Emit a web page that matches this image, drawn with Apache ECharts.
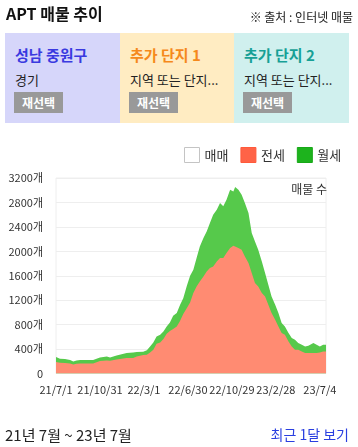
<!DOCTYPE html>
<html><head><meta charset="utf-8">
<script src="https://cdn.jsdelivr.net/npm/echarts@6/dist/echarts.min.js"></script>
<style>
html,body{margin:0;padding:0;background:#fff;}
body{width:358px;height:447px;position:relative;overflow:hidden;font-family:"Noto Sans CJK KR","Noto Sans",sans-serif;color:#222;}
#chart{position:absolute;left:0;top:0;width:358px;height:447px;}
.abs{position:absolute;white-space:nowrap;}
.title{left:6px;top:1px;font-size:16px;font-weight:bold;color:#111;}
.src{right:5px;top:8px;font-size:12px;color:#222;}
.card{position:absolute;top:33px;height:90px;width:115px;}
.card .h{position:absolute;left:10px;top:11px;font-size:15px;font-weight:bold;}
.card .s{position:absolute;left:10px;top:37px;font-size:13px;color:#222;}
.card .b{position:absolute;left:9px;top:59px;width:49px;height:21px;line-height:21px;background:#999;color:#fff;font-size:12px;font-weight:bold;text-align:center;}
.foot{left:5px;top:424px;font-size:15px;color:#222;}
.more{right:9px;top:424px;font-size:14px;color:#2a3fe0;}
</style></head>
<body>
<div id="chart"></div>
<div class="abs title">APT 매물 추이</div>
<div class="abs src">※ 출처 : 인터넷 매물</div>
<div class="card" style="left:5px;background:#d6d6fa;"><div class="h" style="color:#3a3ae0;">성남 중원구</div><div class="s">경기</div><div class="b">재선택</div></div>
<div class="card" style="left:120px;background:#ffecc2;"><div class="h" style="color:#f5891c;">추가 단지 1</div><div class="s">지역 또는 단지...</div><div class="b">재선택</div></div>
<div class="card" style="left:234px;width:115px;background:#d0f0ee;"><div class="h" style="color:#17a096;">추가 단지 2</div><div class="s">지역 또는 단지...</div><div class="b">재선택</div></div>
<div class="abs foot">21년 7월 ~ 23년 7월</div>
<div class="abs more">최근 1달 보기</div>
<script>
// day index since 21/7/1
const days = [0,11,25,39,48,57,67,85,103,108,122,141,150,168,182,196,214,224,242,252,261,270,279,289,298,307,316,325,335,344,353,363,372,381,390,399,409,418,427,436,446,455,464,473,483,492,497,506,515,524,534,543,552,561,571,580,589,598,608,617,626,635,645,654,663,672,682,691,700,714,723,732,741,749];
const jeonse = [187,175,170,164,148,159,164,164,164,192,203,213,208,230,241,252,252,279,301,306,344,388,486,508,563,650,694,727,770,860,975,1071,1163,1317,1425,1507,1589,1671,1726,1753,1835,1890,1890,1972,2054,2092,2108,2054,2026,1917,1808,1644,1481,1425,1317,1261,1125,989,880,770,662,634,524,442,388,388,360,334,334,334,334,344,360,360];
const wolse = [82,66,66,55,49,54,55,55,55,54,59,66,54,65,76,82,92,71,54,76,98,120,120,126,125,120,141,218,219,260,255,366,437,382,465,573,629,655,738,847,846,901,846,873,955,889,945,955,901,874,819,656,681,601,518,383,328,272,245,219,164,136,138,138,164,110,110,108,119,164,136,98,110,110];
const maemae = [];
const xTickLabels = ['21/7/1','21/10/31','22/3/1','22/6/30','22/10/29','23/2/28','23/7/4'];
const yTicks = [0,400,800,1200,1600,2000,2400,2800,3200];

const FONT = '"Noto Sans CJK KR","Noto Sans",sans-serif';
const chart = echarts.init(document.getElementById('chart'), null, {renderer:'canvas'});
const pairs = arr => arr.map((v,i)=>[days[i], v]);
// 월세 is stacked on top of 전세: its area reaches 전세 + 월세
const stackedTop = wolse.map((v,i)=>[days[i], jeonse[i] + v]);
const STEP = 122;
chart.setOption({
  animation:false,
  textStyle:{fontFamily:FONT},
  legend:{
    left:179, top:142, itemWidth:15, itemHeight:15, itemGap:12, icon:'rect',
    textStyle:{fontSize:13, color:'#333', fontFamily:FONT},
    data:[
      {name:'매매', itemStyle:{color:'#ffffff', borderColor:'#c4c4c4', borderWidth:1}},
      {name:'전세', itemStyle:{color:'#ff6347', borderColor:'#ff5a3a', borderWidth:1}},
      {name:'월세', itemStyle:{color:'#1db31d', borderColor:'#18a818', borderWidth:1}}
    ],
    selectedMode:false
  },
  grid:{left:56, top:178, width:270, height:195.5, show:true, borderColor:'#eeeeee', borderWidth:1, containLabel:false},
  xAxis:{
    type:'value', min:0, max:days[days.length-1], interval:STEP,
    axisLine:{show:false}, axisTick:{show:false}, splitLine:{show:false},
    axisLabel:{fontSize:11, color:'#333', margin:11, fontFamily:FONT,
      formatter:v => (v % STEP === 0 && xTickLabels[v/STEP]) ? xTickLabels[v/STEP] : ''}
  },
  yAxis:{
    type:'value', min:yTicks[0], max:yTicks[yTicks.length-1], interval:400,
    axisLine:{show:false}, axisTick:{show:false},
    splitLine:{lineStyle:{color:'#eeeeee', width:1}},
    axisLabel:{fontSize:11, color:'#333', margin:13, fontFamily:FONT, formatter:v => v===0 ? '0' : v+'개'}
  },
  graphic:[{type:'text', right:31, top:183, z:100, style:{text:'매물 수', font:'12px '+FONT, fill:'#333'}}],
  series:[
    {name:'매매', type:'line', data:pairs(maemae), color:'#ffffff', showSymbol:false, lineStyle:{width:0}},
    {name:'전세', type:'line', z:3, data:pairs(jeonse), color:'#ff6347', showSymbol:false, symbol:'none',
      lineStyle:{width:0}, areaStyle:{color:'#ff8b72', opacity:1}},
    {name:'월세', type:'line', z:2, data:stackedTop, color:'#1db31d', showSymbol:false, symbol:'none',
      lineStyle:{width:0}, areaStyle:{color:'#56c94b', opacity:1}}
  ]
});
</script>
</body></html>
